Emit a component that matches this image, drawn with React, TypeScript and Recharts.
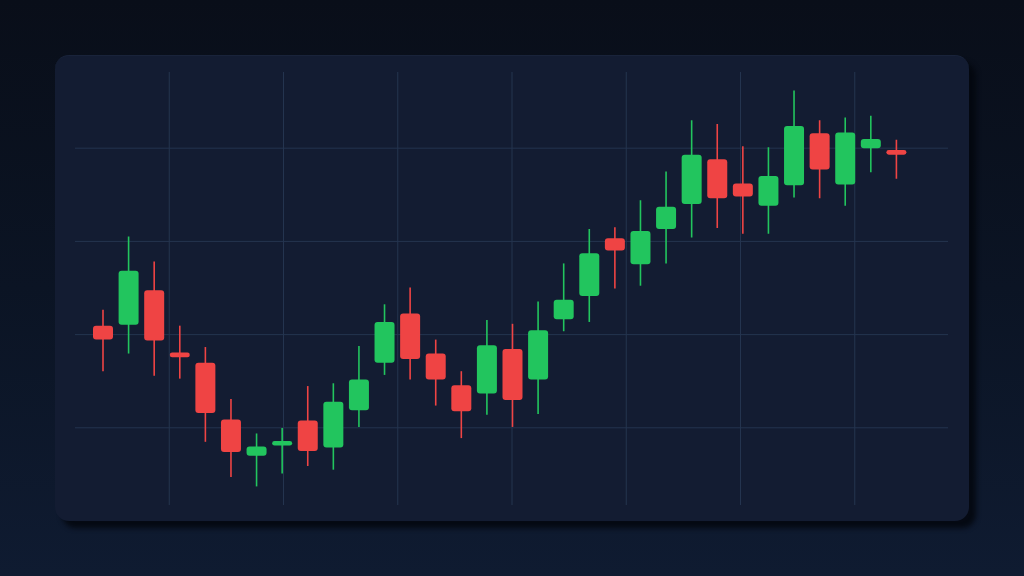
import React from "react";
import { ComposedChart, Bar, XAxis, YAxis, CartesianGrid } from "recharts";

const labels = Array.from({ length: 32 }, (_, i) => `D${i + 1}`);
const opens = [120.9, 121.0, 124.7, 118.0, 116.9, 110.8, 106.9, 108.0, 110.7, 107.8, 111.8, 116.9, 122.2, 117.9, 114.5, 113.6, 118.4, 115.1, 121.6, 124.1, 130.3, 127.5, 131.3, 134.0, 138.8, 136.2, 133.8, 136.0, 141.6, 136.1, 140.0, 139.8];
const highs = [122.6, 130.5, 127.8, 120.9, 118.6, 113.0, 109.3, 109.9, 114.4, 114.7, 118.7, 123.2, 125.0, 119.4, 116.0, 121.5, 121.1, 123.5, 127.6, 131.3, 131.5, 134.4, 137.5, 143.0, 142.6, 140.2, 140.1, 146.2, 143.0, 143.3, 143.5, 140.9];
const lows = [116.0, 117.9, 115.5, 115.2, 108.4, 104.6, 103.6, 105.0, 105.8, 105.4, 110.0, 115.6, 115.1, 112.3, 108.8, 111.3, 110.0, 111.4, 120.3, 121.3, 124.9, 125.2, 127.6, 130.4, 131.4, 130.8, 130.8, 134.7, 134.6, 133.8, 137.4, 136.7];
const closes = [119.4, 126.8, 119.3, 117.5, 111.5, 107.3, 107.9, 108.5, 107.4, 112.7, 115.1, 121.3, 117.3, 115.1, 111.7, 118.8, 112.9, 120.4, 123.7, 128.7, 129.0, 131.1, 133.7, 139.3, 134.6, 134.8, 137.0, 142.4, 137.7, 141.7, 141.0, 139.3];

const data = labels.map((t, i) => ({
  t,
  open: opens[i],
  high: highs[i],
  low: lows[i],
  close: closes[i],
  range: [lows[i], highs[i]],
}));

const W = 914;
const H = 466;
const UP = "#22c55e";
const DOWN = "#ef4444";
const GRID = "#24344f";

const Candle = (props: any) => {
  const { x, y, width, height, payload } = props;
  if (!payload) return null;
  const { open, close, high, low } = payload;
  const top = Math.min(y, y + height);
  const h = Math.abs(height);
  const ppu = h / (high - low || 1);
  const bodyTopVal = Math.max(open, close);
  const bodyBotVal = Math.min(open, close);
  const bTop = top + (high - bodyTopVal) * ppu;
  let bH = (bodyTopVal - bodyBotVal) * ppu;
  const color = close >= open ? UP : DOWN;
  let bY = bTop;
  if (bH < 4) {
    bY = bTop + bH / 2 - 2;
    bH = 4;
  }
  const cx = x + width / 2;
  const r = Math.min(3, bH / 2);
  return (
    <g>
      <line x1={cx} x2={cx} y1={top} y2={top + h} stroke={color} strokeWidth={1.6} />
      <rect x={x} y={bY} width={width} height={bH} rx={r} ry={r} fill={color} />
    </g>
  );
};

export default function App() {
  return (
    <div
      style={{
        position: "fixed",
        left: 0,
        top: 0,
        width: 1024,
        height: 576,
        background: "linear-gradient(180deg, #090e19 0%, #0b1424 50%, #0f1b31 100%)",
        overflow: "hidden",
      }}
    >
      <div
        style={{
          position: "absolute",
          left: 55,
          top: 55,
          width: W,
          height: H,
          borderRadius: 14,
          background: "#131c32",
          boxShadow: "7px 7px 5px rgba(3,7,14,0.85)",
          borderTop: "1px solid #19233a",
          boxSizing: "border-box",
        }}
      >
        <div style={{ position: "absolute", left: 0, top: -1 }}>
          <ComposedChart
            width={W}
            height={H}
            data={data}
            margin={{ top: 17, right: 21, bottom: 16, left: 20 }}
          >
            <CartesianGrid
              stroke={GRID}
              strokeWidth={1}
              horizontalCoordinatesGenerator={() => [1, 2, 3, 4].map((k) => (H * k) / 5)}
              verticalCoordinatesGenerator={() => [1, 2, 3, 4, 5, 6, 7].map((k) => (W * k) / 8)}
            />
            <XAxis dataKey="t" hide padding={{ left: 15, right: 39 }} />
            <YAxis hide domain={[101.6, 148.2]} allowDataOverflow />
            <Bar dataKey="range" barSize={20} shape={<Candle />} isAnimationActive={false} />
          </ComposedChart>
        </div>
      </div>
    </div>
  );
}
